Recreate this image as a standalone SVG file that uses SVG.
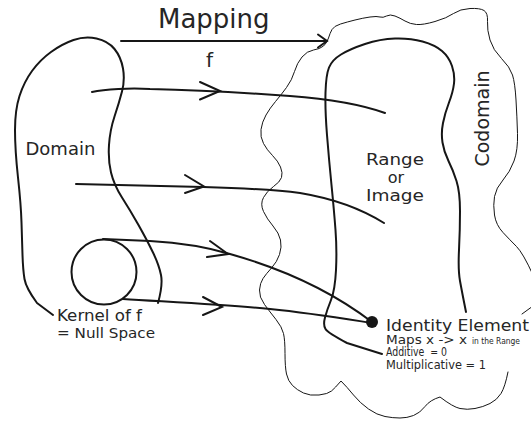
<svg xmlns="http://www.w3.org/2000/svg" width="531" height="423" viewBox="0 0 531 423">
  <style>
    .thick { fill: none; stroke: #161616; stroke-width: 2; stroke-linecap: round; stroke-linejoin: round; }
    .thin { fill: none; stroke: #161616; stroke-width: 1; stroke-linecap: round; stroke-linejoin: round; }
    .head { fill: none; stroke: #161616; stroke-width: 2; stroke-linecap: round; stroke-linejoin: miter; }
    text { font-family: "DejaVu Sans", "Liberation Sans", sans-serif; fill: #262626; }
  </style>

  <!-- Codomain: thin wavy outline, interrupted by the identity-element note -->
  <g id="codomain">
    <path class="thin" d="M508,372 Q505,387 501,393.5 Q497,400 490,403.5 Q483,407 475,408.5 Q467,410 460,408.5 Q453,407 440,397
      Q430,400 425,406.5 Q420,413 413.5,415.5 Q407,418 400,418 Q393,418 385,416.5 Q377,415 368.5,409 Q360,403 353.5,395 Q347,387 341,381
      Q335,388 331.5,391 Q328,394 319,395 Q310,396 303.5,393 Q297,390 292.5,385.5 Q288,381 286.5,374 Q285,367 285,353.5
      Q285,340 283.5,333.5 Q282,327 276,319.5 Q270,312 264.5,304.5 Q259,297 259.5,290 Q260,283 263,278.5 Q266,274 271.5,268
      Q277,262 279.5,254.5 Q282,247 280.5,240 Q279,233 273,226 Q267,219 263.5,211.5 Q260,204 263.5,197.5 Q267,191 273.5,186.5
      Q280,182 281.5,177.5 Q283,173 280.5,167 Q278,161 272.5,155.5 Q267,150 263.5,143.5 Q260,137 261,129.5 Q262,122 266,115
      Q270,108 275.5,101.5 Q281,95 286.5,87.5 Q292,80 294.5,71.5 Q297,63 302,57 Q307,51 313.5,50 Q320,49 323.5,46 Q327,43 328.5,38
      Q330,33 332,29.5 Q334,26 340.5,24 Q347,22 355,20 Q363,18 370,17 Q377,16 380,17 Q383,18 386.5,16 Q390,14 395,16 Q400,18 405,21
      Q410,24 416.5,24.5 Q423,25 435,21.5 Q447,18 453.5,13.5 Q460,9 470,8.5 Q480,8 484,10.5 Q488,13 487.5,21.5 Q487,30 490,40
      Q493,50 501.5,58.5 Q510,67 512.5,75 Q515,83 516,100 Q517,117 517.5,133.5 Q518,150 514,161 Q510,172 503,180 Q496,188 494.5,196.5
      Q493,205 494.5,215 Q496,225 503,232.5 Q510,240 516.5,246.5 Q523,253 533,275"/>
    <path class="thin" d="M533,306 L522,314"/>
    <text transform="translate(489,118.5) rotate(-90)" text-anchor="middle" font-size="19">Codomain</text>
  </g>

  <!-- Domain: thick outline -->
  <g id="domain">
    <path class="thick" d="M53,315 L37,303 Q26,288 24.5,279 Q23,270 22.5,255 Q22,240 21.5,222.5 Q21,205 18,177.5 Q15,150 15,130
      Q15,110 19.5,96 Q24,82 32,71 Q40,60 51,52 Q62,44 73.5,40 Q85,36 96.5,38.5 Q108,41 114.5,49 Q121,57 123,68.5 Q125,80 122,91.5
      Q119,103 114.5,116.5 Q110,130 109,145 Q108,160 111,172.5 Q114,185 122,197.5 Q130,210 138.5,225 Q147,240 153,252.5
      Q159,265 161,275 Q163,285 158,303"/>
    <text x="25.5" y="155" font-size="18">Domain</text>
  </g>

  <!-- Kernel of f -->
  <g id="kernel">
    <circle class="thick" cx="104" cy="272" r="32.5"/>
    <text x="57" y="321" font-size="15.5" textLength="85" lengthAdjust="spacingAndGlyphs">Kernel of f</text>
    <text x="57" y="338" font-size="14.5" textLength="98" lengthAdjust="spacingAndGlyphs">= Null Space</text>
  </g>

  <!-- Range (image) -->
  <g id="range">
    <path class="thick" d="M382,354 L347,343 Q328,333 325.5,329 Q323,325 325,317.5 Q327,310 331,300 Q335,290 336,270 Q337,250 335.5,230
      Q334,210 331.5,185 Q329,160 327,135 Q325,110 325.5,92.5 Q326,75 329,67.5 Q332,60 341,54.5 Q350,49 365,44 Q380,39 395,38.5
      Q410,38 422.5,41.5 Q435,45 442,51 Q449,57 452,66 Q455,75 454,83.5 Q453,92 449,102.5 Q445,113 443,123 Q441,133 442.5,142.5
      Q444,152 448.5,161 Q453,170 456.5,181 Q460,192 460,211 Q460,230 459,250 Q458,270 460,281 Q462,292 466,312"/>
    <text x="395" y="165" font-size="16" text-anchor="middle" textLength="58" lengthAdjust="spacingAndGlyphs">Range</text>
    <text x="396" y="183" font-size="16" text-anchor="middle">or</text>
    <text x="395" y="201" font-size="16" text-anchor="middle" textLength="58" lengthAdjust="spacingAndGlyphs">Image</text>
  </g>

  <!-- Identity element -->
  <g id="identity">
    <circle cx="372" cy="322" r="6" fill="#161616"/>
    <text x="386" y="331" font-size="16" textLength="143" lengthAdjust="spacingAndGlyphs">Identity Element</text>
    <text x="386" y="343.5" font-size="11.5" textLength="81" lengthAdjust="spacingAndGlyphs">Maps x -&gt; x</text>
    <text x="472" y="343.5" font-size="9" textLength="48" lengthAdjust="spacingAndGlyphs">in the Range</text>
    <text x="386" y="356" font-size="11.5" textLength="61" lengthAdjust="spacingAndGlyphs" xml:space="preserve">Additive  = 0</text>
    <text x="386" y="368.5" font-size="11.5" textLength="100" lengthAdjust="spacingAndGlyphs">Multiplicative = 1</text>
  </g>

  <!-- Mapping arrows -->
  <g id="connectors">
    <path class="thick" d="M121,41 L326,41"/>
    <path class="head" d="M318,34.5 L327,41 L318,47.5"/>
    <text x="158" y="27.5" font-size="26">Mapping</text>
    <text x="206" y="67" font-size="20">f</text>

    <path class="thick" d="M92,92 C105,89 130,88 150,89 C200,90 250,93 290,96 C330,99 360,104 385,113"/>
    <path class="head" d="M200,82 L220,91 L200,99.5"/>

    <path class="thick" d="M76,184 L203,187 C240,188 270,189 300,193 C330,198 360,208 384,223"/>
    <path class="head" d="M185,175 L204,186.5 L185,193"/>

    <path class="thick" d="M103,239 L150,241 C185,243 210,248 230,254 C280,268 330,290 372,322"/>
    <path class="head" d="M210,241 L228,254 L207,257"/>

    <path class="thick" d="M123,299 C170,302 230,305 270,309 C310,313 340,318 372,323"/>
    <path class="head" d="M203,297 L222,307 L203,315"/>
  </g>
</svg>
